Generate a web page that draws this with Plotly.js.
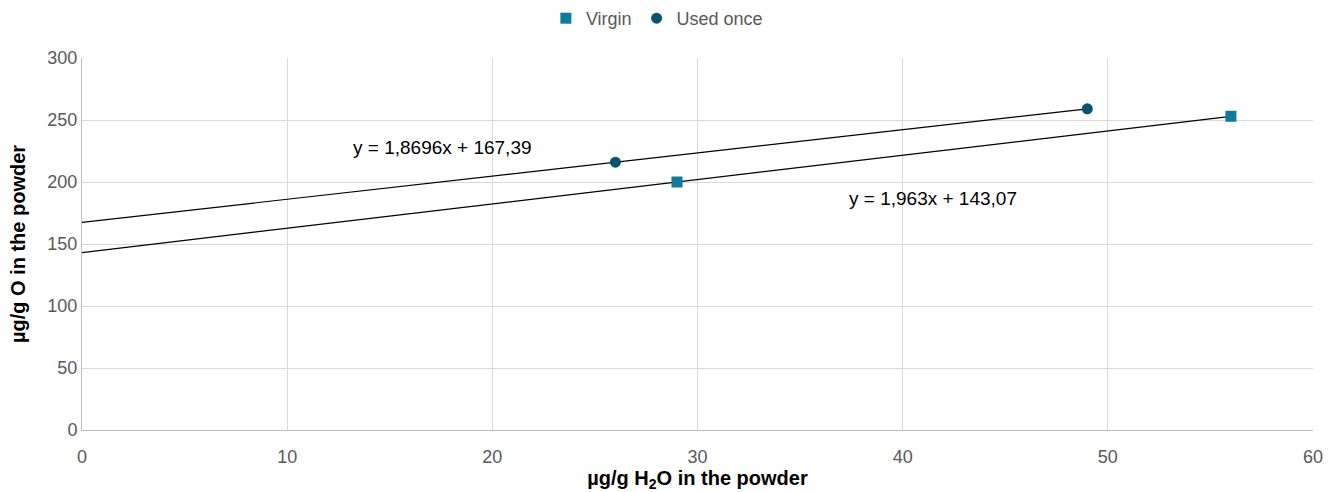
<!DOCTYPE html>
<html>
<head>
<meta charset="utf-8">
<script src="https://cdn.plot.ly/plotly-3.0.1.min.js"></script>
<style>html,body{margin:0;padding:0;background:#fff;}#chart{width:1339px;height:492px;}</style>
</head>
<body>
<div id="chart"></div>
<script>
// Data
const virginX = [29, 56];
const virginY = [200, 253];
const usedX = [26, 49];
const usedY = [216, 259];
// Linear trendlines (from the equations shown): endpoints
const usedTrendX = [0, 49];
const usedTrendY = [167.39, 258.999];
const virginTrendX = [0, 56];
const virginTrendY = [143.07, 253.0];
const eqLabels = ["y = 1,8696x + 167,39", "y = 1,963x + 143,07"];
const xTicks = [0, 10, 20, 30, 40, 50, 60];
const yTicks = [0, 50, 100, 150, 200, 250, 300];

const font = "Liberation Sans, Arial, sans-serif";

const traces = [
  {x: usedTrendX, y: usedTrendY, mode: "lines", line: {color: "#000000", width: 1.2}, showlegend: false, hoverinfo: "skip"},
  {x: virginTrendX, y: virginTrendY, mode: "lines", line: {color: "#000000", width: 1.2}, showlegend: false, hoverinfo: "skip"},
  {x: virginX, y: virginY, mode: "markers", name: "Virgin", marker: {symbol: "square", size: 11, color: "#0F7A9A"}},
  {x: usedX, y: usedY, mode: "markers", name: "Used once", marker: {symbol: "circle", size: 11, color: "#0B5470"}}
];

const layout = {
  width: 1339, height: 492,
  margin: {l: 82, r: 26, t: 58, b: 62},
  paper_bgcolor: "#ffffff", plot_bgcolor: "#ffffff",
  font: {family: font, color: "#595959", size: 18},
  showlegend: true,
  legend: {orientation: "h", x: 0.467, xanchor: "center", y: 1.0, yref: "container", yanchor: "top",
           font: {size: 18, color: "#595959"}, itemwidth: 30, tracegroupgap: 0},
  xaxis: {
    range: [0, 60], tickvals: xTicks, ticktext: xTicks.map(String),
    showgrid: true, gridcolor: "#d9d9d9", gridwidth: 1,
    showline: true, linecolor: "#bfbfbf", linewidth: 1,
    zeroline: false, ticks: "", ticklen: 0, ticklabelstandoff: 10,
    tickfont: {size: 18, color: "#595959"},
    title: {text: "µg/g H<sub>2</sub>O in the powder", font: {size: 20, color: "#000000", family: font, weight: "bold"}, standoff: 15}
  },
  yaxis: {
    range: [0, 300], tickvals: yTicks, ticktext: yTicks.map(String),
    showgrid: true, gridcolor: "#d9d9d9", gridwidth: 1,
    showline: true, linecolor: "#bfbfbf", linewidth: 1,
    zeroline: false, ticks: "", ticklen: 0,
    tickfont: {size: 18, color: "#595959"},
    title: {text: "µg/g O in the powder", font: {size: 20, color: "#000000", family: font, weight: "bold"}, standoff: 16}
  },
  annotations: [
    {x: 17.55, y: 228.2, xref: "x", yref: "y", text: eqLabels[0], showarrow: false, font: {size: 19, color: "#000000", family: font}},
    {x: 41.48, y: 186.3, xref: "x", yref: "y", text: eqLabels[1], showarrow: false, font: {size: 19, color: "#000000", family: font}}
  ]
};

Plotly.newPlot("chart", traces, layout, {displayModeBar: false, staticPlot: true});
</script>
</body>
</html>
